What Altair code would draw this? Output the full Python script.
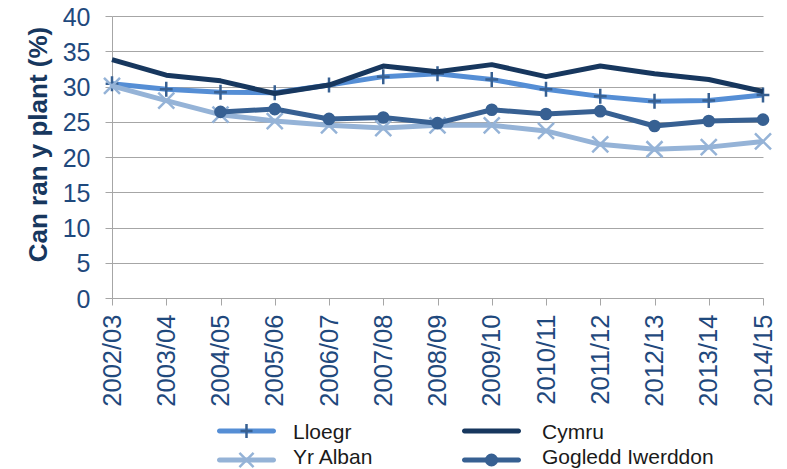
import altair as alt
import pandas as pd

years = ["2002/03", "2003/04", "2004/05", "2005/06", "2006/07", "2007/08", "2008/09",
         "2009/10", "2010/11", "2011/12", "2012/13", "2013/14", "2014/15"]
lloegr = [30.4, 29.6, 29.2, 29.1, 30.2, 31.4, 31.8, 31.0, 29.6, 28.6, 27.9, 28.0, 28.8]
cymru = [33.8, 31.6, 30.8, 29.0, 30.2, 32.9, 32.1, 33.1, 31.4, 32.9, 31.8, 31.0, 29.3]
yr_alban = [30.1, 28.0, 26.0, 25.1, 24.5, 24.1, 24.5, 24.5, 23.7, 21.8, 21.1, 21.4, 22.2]
gogledd = [None, None, 26.4, 26.8, 25.4, 25.6, 24.8, 26.7, 26.1, 26.5, 24.4, 25.1, 25.3]

names = ["Lloegr", "Cymru", "Yr Alban", "Gogledd Iwerddon"]
colors = ["#558ED5", "#17375E", "#95B3D7", "#376092"]
series = [lloegr, cymru, yr_alban, gogledd]
y_ticks = [0, 5, 10, 15, 20, 25, 30, 35, 40]

FONT = "Liberation Sans"
LABEL_COLOR = "#1F497D"
GRID = "#A6A6A6"
PLUS = "M-0.85,0L0.85,0M0,-1L0,1"
CROSS = "M-1,-1L1,1M-1,1L1,-1"

rows = []
for n, vals in zip(names, series):
    for yr, v in zip(years, vals):
        if v is not None:
            rows.append({"series": n, "year": yr, "value": v})
df = pd.DataFrame(rows)

x_enc = alt.X("year:O", sort=years,
              scale=alt.Scale(type="point", padding=0, domain=years),
              axis=alt.Axis(title=None, labelAngle=-90, tickSize=7, labelPadding=9,
                            domainColor=GRID, tickColor=GRID, grid=False,
                            labelFont=FONT, labelFontSize=25.5, labelColor=LABEL_COLOR))
y_enc = alt.Y("value:Q", scale=alt.Scale(domain=[0, 40], nice=False),
              axis=alt.Axis(values=y_ticks, grid=True, gridColor=GRID, gridWidth=1,
                            domainColor=GRID, tickColor=GRID, tickSize=7, labelPadding=15,
                            labelFont=FONT, labelFontSize=25, labelColor=LABEL_COLOR,
                            labelFlush=False, labelOffset=1,
                            title="Can ran y plant (%)", titleFont=FONT, titleFontSize=26,
                            titleFontWeight="bold", titleColor="#17375E",
                            titleAngle=-90, titleX=-74, titleY=128,
                            titleAlign="center", titleBaseline="middle"))

main_layers = []
for n, c in zip(names, colors):
    base = alt.Chart(df).transform_filter(alt.datum.series == n)
    main_layers.append(base.mark_line(color=c, strokeWidth=5, strokeJoin="round")
                       .encode(x=x_enc, y=y_enc))
    if n == "Lloegr":
        main_layers.append(base.mark_point(shape=PLUS, size=225, stroke="#376092",
                                           strokeWidth=2.5, opacity=1, filled=False)
                           .encode(x=x_enc, y=y_enc))
    elif n == "Yr Alban":
        main_layers.append(base.mark_point(shape=CROSS, size=256, stroke=c,
                                           strokeWidth=2.5, opacity=1, filled=False)
                           .encode(x=x_enc, y=y_enc))
    elif n == "Gogledd Iwerddon":
        main_layers.append(base.mark_circle(size=160, color=c, opacity=1)
                           .encode(x=x_enc, y=y_enc))
main = alt.layer(*main_layers)

leg = pd.DataFrame({"name": names,
                    "col": [i % 2 for i in range(len(names))],
                    "row": [i // 2 for i in range(len(names))]})

lx = alt.X("col:Q", scale=alt.Scale(domain=[0, 1], range=[134.5, 379.5]), axis=None)
ly = alt.Y("row:Q", scale=alt.Scale(domain=[0, 1], range=[415, 444]), axis=None)
lcol = alt.Color("name:N", scale=alt.Scale(domain=names, range=colors), legend=None)
lbase = alt.Chart(leg)
leg_sym = alt.layer(
    lbase.mark_tick(orient="horizontal", size=59, thickness=5, opacity=1, cornerRadius=2.5)
    .encode(x=lx, y=ly, color=lcol),
    lbase.transform_filter(alt.datum.name == "Lloegr")
    .mark_point(shape=PLUS, size=200, stroke="#376092", strokeWidth=2.5, opacity=1, filled=False)
    .encode(x=lx, y=ly),
    lbase.transform_filter(alt.datum.name == "Yr Alban")
    .mark_point(shape=CROSS, size=200, stroke="#95B3D7", strokeWidth=2.5, opacity=1, filled=False)
    .encode(x=lx, y=ly),
    lbase.transform_filter(alt.datum.name == "Gogledd Iwerddon")
    .mark_circle(size=170, color="#376092", opacity=1)
    .encode(x=lx, y=ly),
)

tx = alt.X("col:Q", scale=alt.Scale(domain=[0, 1], range=[181, 430]), axis=None)
ty = alt.Y("row:Q", scale=alt.Scale(domain=[0, 1], range=[417, 442]), axis=None)
leg_text = lbase.mark_text(align="left", baseline="middle", font=FONT, fontSize=21,
                           color="#1A1A1A").encode(x=tx, y=ty, text="name:N")

chart = alt.layer(main, leg_sym, leg_text).resolve_scale(
    x="independent", y="independent", color="independent"
).properties(
    width=651, height=282,
    autosize=alt.AutoSizeParams(type="none"),
    padding={"left": 104, "top": 8, "right": 12, "bottom": 171},
).configure_view(stroke=None)

chart.save("out.html", embed_options={"renderer": "svg", "actions": False})
